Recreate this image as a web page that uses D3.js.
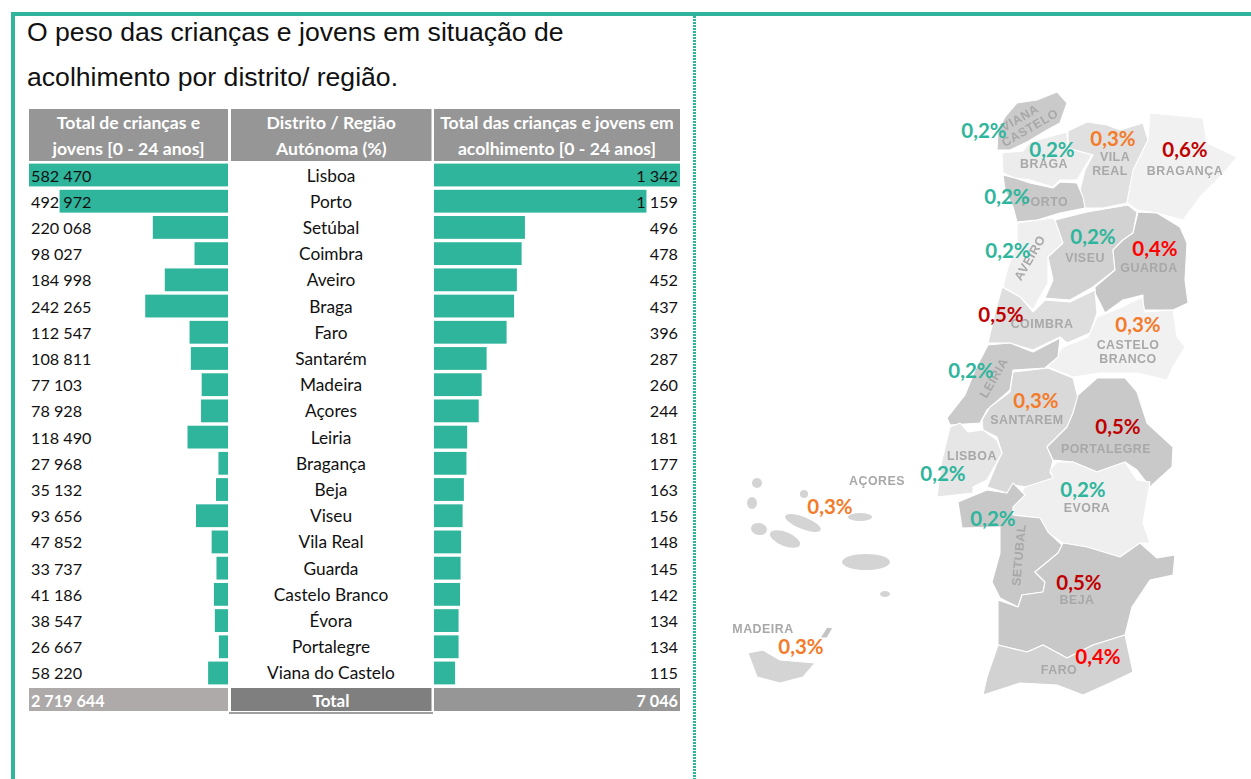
<!DOCTYPE html>
<html lang="pt"><head><meta charset="utf-8">
<script src="https://cdn.jsdelivr.net/npm/d3@7/dist/d3.min.js"></script>
<style>html,body{margin:0;padding:0;background:#fff;overflow:hidden}svg{display:block}</style>
</head><body><svg id="c" width="1251" height="779"></svg>
<script>
// ---------- data ----------
const districts = ["Lisboa","Porto","Setúbal","Coimbra","Aveiro","Braga","Faro","Santarém","Madeira","Açores","Leiria","Bragança","Beja","Viseu","Vila Real","Guarda","Castelo Branco","Évora","Portalegre","Viana do Castelo"];
const totalJovens = [582470,492972,220068,98027,184998,242265,112547,108811,77103,78928,118490,27968,35132,93656,47852,33737,41186,38547,26667,58220];
const totalAcolhimento = [1342,1159,496,478,452,437,396,287,260,244,181,177,163,156,148,145,142,134,134,115];
const pesoPct = [0.2,0.2,0.2,0.5,0.2,0.2,0.4,0.3,0.3,0.3,0.2,0.6,0.5,0.2,0.3,0.4,0.3,0.2,0.5,0.2];
const totals = {jovens:2719644, acolhimento:7046};
const titleLines = ["O peso das crianças e jovens em situação de","acolhimento por distrito/ região."];
const headers = [["Total de crianças e","jovens [0 - 24 anos]"],["Distrito / Região","Autónoma (%)"],["Total das crianças e jovens em","acolhimento [0 - 24 anos]"]];

// ---------- map geometry (background picture) ----------
const regionShapes = [
 {f:"#cacaca",p:[[997,150],[998,130],[1005,117],[1017,103],[1037,100],[1057,92],[1067,103],[1060,123],[1047,130],[1027,142],[1010,150]]},
 {f:"#ececec",p:[[1002,153],[1023,151],[1030,142],[1067,132],[1068,148],[1092,155],[1083,170],[1077,180],[1060,180],[1053,187],[1030,180],[1015,178],[1003,173]]},
 {f:"#e0e0e0",p:[[1068,131],[1087,122],[1107,125],[1120,130],[1143,123],[1148,140],[1137,163],[1130,187],[1127,203],[1103,208],[1085,208],[1080,190],[1085,170],[1093,155],[1068,148]]},
 {f:"#f1f1f1",p:[[1150,113],[1203,118],[1207,143],[1237,157],[1220,177],[1200,197],[1183,220],[1157,213],[1137,210],[1127,203],[1133,170],[1148,140]]},
 {f:"#cacaca",p:[[1003,175],[1015,178],[1030,183],[1053,188],[1060,182],[1077,183],[1083,197],[1085,208],[1060,213],[1037,220],[1017,222],[1013,207],[1005,190]]},
 {f:"#efefef",p:[[1017,223],[1053,218],[1062,227],[1063,243],[1048,257],[1048,283],[1040,297],[1033,310],[1020,297],[1003,287],[1008,267],[1017,243]]},
 {f:"#d2d2d2",p:[[1055,220],[1087,212],[1128,205],[1137,212],[1133,233],[1123,240],[1113,250],[1115,270],[1093,287],[1070,300],[1045,298],[1053,280],[1048,257],[1063,243]]},
 {f:"#c6c6c6",p:[[1138,212],[1157,213],[1180,227],[1187,243],[1185,280],[1188,303],[1173,310],[1143,310],[1143,295],[1123,300],[1105,313],[1095,293],[1095,287],[1115,270],[1113,250],[1123,240],[1133,233]]},
 {f:"#dedede",p:[[1002,287],[1020,297],[1033,312],[1045,300],[1070,302],[1095,290],[1097,313],[1090,333],[1067,343],[1060,337],[1033,350],[1010,343],[988,343],[995,313]]},
 {f:"#f1f1f1",p:[[1097,317],[1120,308],[1142,297],[1145,312],[1173,310],[1177,337],[1185,347],[1173,367],[1167,380],[1137,373],[1100,373],[1073,377],[1048,367],[1063,347],[1088,337]]},
 {f:"#cacaca",p:[[988,345],[1010,343],[1033,352],[1060,338],[1058,357],[1045,368],[1013,370],[1010,390],[987,410],[980,423],[950,425],[947,418],[965,395],[975,370]]},
 {f:"#d9d9d9",p:[[1013,372],[1048,368],[1073,378],[1078,398],[1073,413],[1067,427],[1047,447],[1053,460],[1050,473],[1055,478],[1027,487],[1013,485],[1007,493],[987,487],[997,463],[1002,453],[997,437],[983,430],[982,420],[990,407],[1010,392]]},
 {f:"#e6e6e6",p:[[950,427],[960,423],[968,432],[983,430],[997,440],[1002,453],[987,480],[973,487],[973,493],[937,497],[942,460]]},
 {f:"#c9c9c9",p:[[1078,395],[1097,378],[1125,378],[1137,392],[1147,423],[1173,447],[1172,467],[1150,487],[1137,470],[1125,462],[1097,472],[1073,462],[1053,460],[1047,447],[1067,427],[1073,413]]},
 {f:"#efefef",p:[[1050,470],[1057,462],[1073,462],[1097,472],[1125,462],[1137,480],[1150,482],[1143,523],[1150,543],[1140,543],[1120,557],[1087,547],[1063,543],[1048,533],[1040,518],[1013,515],[1013,505],[1025,487],[1053,478]]},
 {f:"#c8c8c8",p:[[958,502],[987,490],[1007,493],[1013,483],[1025,495],[1013,507],[1013,515],[1040,518],[1048,532],[1062,545],[1058,553],[1035,572],[1045,582],[1043,592],[1022,595],[1018,607],[1000,598],[992,582],[1000,553],[1000,527],[962,528]]},
 {f:"#c8c8c8",p:[[1063,543],[1087,547],[1120,557],[1140,543],[1157,558],[1175,555],[1173,575],[1150,580],[1132,607],[1125,635],[1093,645],[1067,658],[1043,645],[1027,652],[998,645],[998,600],[1018,607],[1022,595],[1043,592],[1045,582],[1035,572],[1058,553]]},
 {f:"#d2d2d2",p:[[998,645],[1027,652],[1043,645],[1067,658],[1093,645],[1125,635],[1133,672],[1110,683],[1083,695],[1057,685],[1020,683],[983,695],[987,677]]},
 {f:"#d4d4d4",p:[[748,653],[763,650],[780,660],[815,663],[803,677],[780,683],[757,677]]},
 {f:"#c4c4c4",p:[[820,638],[827,627],[833,628],[827,638]]}
];
const islandShapes = [[757,483,5,5,0],[752,503,5,6,0],[804,494,4,4,0],[803,523,19,6,22],[759,529,8,6,10],[785,539,16,7,22],[860,517,12,4,0],[866,562,24,8,0],[885,594,5,3,0]];
const mapLabels = [["VIANA",1020,118,-30],["CASTELO",1030,128,-30],["BRAGA",1044,164,0],["VILA",1115,157,0],["REAL",1110,171,0],["BRAGANÇA",1185,171,0],["PORTO",1045,202,0],["VISEU",1085,258,0],["GUARDA",1149,268,0],["AVEIRO",1030,258,-60],["COIMBRA",1042,324,0],["CASTELO",1128,345,0],["BRANCO",1128,359,0],["LEIRIA",994,378,-60],["SANTAREM",1027,420,0],["PORTALEGRE",1106,449,0],["LISBOA",972,456,0],["AÇORES",877,481,0],["EVORA",1087,508,0],["SETUBAL",1019,555,-85],["BEJA",1077,600,0],["FARO",1059,670,0],["MADEIRA",763,629,0]];
const pctPlace = {"Viana do Castelo":[984,130],"Braga":[1052,149],"Vila Real":[1113,138],"Bragança":[1185,149],"Porto":[1007,196],"Aveiro":[1008,250],"Viseu":[1093,236],"Guarda":[1155,248],"Coimbra":[1001,314],"Castelo Branco":[1138,324],"Leiria":[971,370],"Santarém":[1036,400],"Portalegre":[1118,426],"Lisboa":[943,473],"Setúbal":[993,518],"Évora":[1083,489],"Beja":[1079,582],"Faro":[1098,656],"Açores":[830,506],"Madeira":[801,646]};

// ---------- drawing ----------
const teal="#2fb59c";
const svg=d3.select("#c");
const fmt=d3.formatLocale({decimal:",",thousands:" ",grouping:[3],currency:["",""]});
const num=fmt.format(",d"), pct=fmt.format(".1f");
const sansT="Lato, 'Noto Sans', sans-serif";

// frame
svg.append("rect").attr("x",11).attr("y",12).attr("width",1240).attr("height",4).attr("fill",teal);
svg.append("rect").attr("x",11).attr("y",12).attr("width",4).attr("height",767).attr("fill",teal);
svg.append("line").attr("x1",694.5).attr("x2",694.5).attr("y1",16).attr("y2",779).attr("stroke",teal).attr("stroke-width",3).attr("stroke-dasharray","2 1");

// title
svg.selectAll("text.title").data(titleLines).join("text").attr("class","title")
 .attr("x",27).attr("y",(d,i)=>41+i*45).attr("font-family","'Liberation Sans',Arial,sans-serif").attr("font-size",26.6).attr("fill","#111").text(d=>d);

// table scales
const yRow=d3.scaleBand().domain(districts).range([161.9,161.9+26.21*20]).paddingInner(0.13).paddingOuter(0.065);
const xL=d3.scaleLinear().domain([0,d3.max(totalJovens)]).range([228,29]);
const xR=d3.scaleLinear().domain([0,d3.max(totalAcolhimento)]).range([434,680]);
const cols=[[29,199],[231,200.5],[434,246]];

// header
cols.forEach((c,i)=>{
 svg.append("rect").attr("x",c[0]).attr("y",109).attr("width",c[1]).attr("height",52).attr("fill","#969696");
 headers[i].forEach((t,j)=>svg.append("text").attr("x",c[0]+c[1]/2).attr("y",129+j*25.5).attr("text-anchor","middle")
  .attr("font-family",sansT).attr("font-weight",700).attr("font-size",17.6).attr("fill","#fff").text(t));
});

// bars
const g=svg.append("g");
g.selectAll("rect.l").data(totalJovens).join("rect").attr("class","l")
 .attr("x",d=>xL(d)).attr("y",(d,i)=>yRow(districts[i])).attr("width",d=>xL(0)-xL(d)).attr("height",yRow.bandwidth()).attr("fill",teal);
g.selectAll("rect.r").data(totalAcolhimento).join("rect").attr("class","r")
 .attr("x",xR(0)).attr("y",(d,i)=>yRow(districts[i])).attr("width",d=>xR(d)-xR(0)).attr("height",yRow.bandwidth()).attr("fill",teal);

// row text
const rowTxt=(sel,fs)=>sel.attr("font-family",sansT).attr("font-size",fs).attr("fill","#111").attr("dominant-baseline","central");
rowTxt(g.selectAll("text.l").data(totalJovens).join("text").attr("class","l").attr("x",31).attr("y",(d,i)=>yRow(districts[i])+yRow.bandwidth()/2).text(d=>num(d)),16.2);
rowTxt(g.selectAll("text.m").data(districts).join("text").attr("class","m").attr("x",331).attr("text-anchor","middle").attr("y",d=>yRow(d)+yRow.bandwidth()/2).text(d=>d),17.3);
rowTxt(g.selectAll("text.r").data(totalAcolhimento).join("text").attr("class","r").attr("x",678).attr("text-anchor","end").attr("y",(d,i)=>yRow(districts[i])+yRow.bandwidth()/2).text(d=>num(d)),16.2);

// total row
const totalFill=["#aeaaaa","#7f7f7f","#969696"];
cols.forEach((c,i)=>svg.append("rect").attr("x",c[0]).attr("y",688).attr("width",c[1]).attr("height",23).attr("fill",totalFill[i]));
svg.append("line").attr("x1",229).attr("x2",433).attr("y1",713).attr("y2",713).attr("stroke","#7f7f7f").attr("stroke-width",1.5);
const totTxt=(x,a,t,fs)=>svg.append("text").attr("x",x).attr("y",700).attr("text-anchor",a).attr("dominant-baseline","central").attr("font-family",sansT).attr("font-weight",700).attr("font-size",fs).attr("fill","#fff").text(t);
totTxt(31,"start",num(totals.jovens),16.2);totTxt(331,"middle","Total",17);totTxt(678,"end",num(totals.acolhimento),16.2);

// map
const map=svg.append("g").attr("style","filter:blur(0.6px)");
const shape=d3.line().curve(d3.curveLinearClosed);
map.selectAll("path").data(regionShapes).join("path").attr("d",d=>shape(d.p)).attr("fill",d=>d.f).attr("stroke","#fff").attr("stroke-width",1.1).attr("stroke-linejoin","round");
map.selectAll("ellipse").data(islandShapes).join("ellipse").attr("cx",0).attr("cy",0)
 .attr("rx",d=>d[2]).attr("ry",d=>d[3]).attr("transform",d=>`translate(${d[0]},${d[1]}) rotate(${d[4]})`).attr("fill","#d4d4d4");
map.selectAll("text").data(mapLabels).join("text").attr("text-anchor","middle").attr("dominant-baseline","central")
 .attr("transform",d=>`translate(${d[1]},${d[2]}) rotate(${d[3]})`)
 .attr("font-family","'Liberation Sans',Arial,sans-serif").attr("font-weight",700).attr("font-size",12.4).attr("letter-spacing",0.5).attr("fill","#a8a8a8").text(d=>d[0]);

// percentage labels
const pctColor=v=>v>=0.5?"#c00000":v>=0.4?"#ff0000":v>=0.3?"#f47b2a":teal;
svg.append("g").selectAll("text").data(districts).join("text")
 .attr("x",d=>pctPlace[d][0]).attr("y",d=>pctPlace[d][1]).attr("text-anchor","middle").attr("dominant-baseline","central")
 .attr("font-family",sansT).attr("font-weight",700).attr("font-size",20.5)
 .attr("fill",(d,i)=>pctColor(pesoPct[i])).text((d,i)=>pct(pesoPct[i])+"%");
</script></body></html>
